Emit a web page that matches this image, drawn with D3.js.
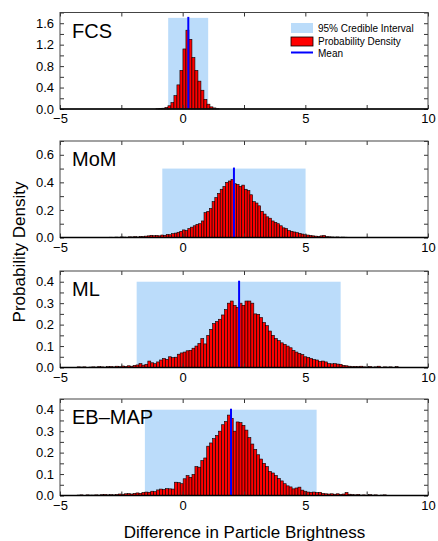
<!DOCTYPE html>
<html>
  <head>
    <meta charset="utf-8">
    <script src="https://cdn.jsdelivr.net/npm/d3@7/dist/d3.min.js"></script>
    <style>
      body { margin: 0; background: white; }
      svg { display: block; font-family: "Liberation Sans", Arial, sans-serif; }
      .frame { fill: none; stroke: #444; stroke-width: 1px; }
      .axis path { display: none; }
      .axis line { stroke: #333; stroke-width: 1px; }
      .axis text { font-size: 13px; fill: black; }
      .bar { fill: #ff0000; stroke: black; stroke-width: 0.6px; }
      .ci { fill: #bbdcfa; }
      .mean { stroke: #0000ff; stroke-width: 2px; }
      .panelLabel { font-size: 20px; }
      .legend text { font-size: 10px; }
    </style>
  </head>
  <body>
    <svg id="chart" width="438" height="541"></svg>
    <script>
      // ---- data ----
      var methods = ["FCS", "MoM", "ML", "EB–MAP"];
      var binStart = [-1.09, -2.98, -4.30, -4.30];
      var binWidth = [0.1223, 0.11, 0.12, 0.12];

      var fcsDensity = [0.005,0.01,0.015,0.03,0.06,0.12,0.25,0.45,0.72,1.12,1.47,1.30,0.96,0.72,0.52,0.35,0.18,0.09,0.04,0.02,0.005];
      var momDensity = [0.002,0,0.003,0.002,0.004,0.003,0.002,0.005,0.004,0.006,
        0.004,0.008,0.007,0.010,0.012,0.016,0.013,0.015,0.012,0.018,
        0.016,0.022,0.020,0.028,0.032,0.038,0.045,0.055,0.050,0.065,
        0.075,0.085,0.095,0.100,0.120,0.180,0.190,0.210,0.260,0.290,
        0.320,0.350,0.370,0.400,0.410,0.420,0.390,0.385,0.370,0.380,
        0.350,0.340,0.310,0.260,0.250,0.230,0.190,0.170,0.150,0.140,
        0.120,0.110,0.100,0.085,0.070,0.065,0.050,0.045,0.040,0.035,
        0.030,0.025,0.020,0.018,0.015,0.012,0.010,0.008,0.012,0.015,
        0.006,0.005,0.004,0.003,0.004,0.002,0.003,0.002,0.001];
      var mlDensity = [0.003,0.002,0.003,0,0.002,0.003,0.002,0.004,0.003,0.002,
        0.004,0.005,0.003,0.006,0.004,0.007,0.005,0.008,0.006,0.010,
        0.012,0.018,0.011,0.015,0.030,0.022,0.018,0.026,0.035,0.042,
        0.038,0.050,0.046,0.048,0.062,0.068,0.072,0.078,0.080,0.090,
        0.100,0.112,0.135,0.110,0.150,0.178,0.205,0.215,0.225,0.245,
        0.270,0.300,0.310,0.290,0.280,0.300,0.290,0.310,0.310,0.300,
        0.250,0.248,0.233,0.210,0.195,0.170,0.150,0.135,0.125,0.115,
        0.108,0.100,0.092,0.080,0.072,0.066,0.060,0.050,0.047,0.042,
        0.037,0.035,0.028,0.030,0.026,0.018,0.017,0.018,0.016,0.015,
        0.010,0.008,0.006,0.004,0.005,0.004,0.006,0.003,0.002,0.005,
        0.002,0.003,0.006,0.001,0.003,0.002,0.003,0.001,0.004,0.001];
      var ebDensity = [0.002,0.003,0.001,0.003,0.002,0.002,0.003,0.002,0.004,0.005,
        0.003,0.004,0.003,0.005,0.007,0.006,0.008,0.009,0.007,0.010,
        0.012,0.010,0.014,0.016,0.015,0.020,0.018,0.026,0.030,0.028,
        0.032,0.031,0.030,0.062,0.060,0.055,0.078,0.093,0.085,0.098,
        0.135,0.132,0.163,0.175,0.230,0.245,0.265,0.280,0.300,0.330,
        0.345,0.375,0.360,0.300,0.343,0.340,0.327,0.305,0.270,0.240,
        0.215,0.190,0.170,0.150,0.135,0.112,0.105,0.093,0.080,0.068,
        0.055,0.045,0.040,0.031,0.035,0.039,0.025,0.020,0.016,0.015,
        0.016,0.014,0.015,0.010,0.008,0.007,0.008,0.006,0.008,0.005,
        0.007,0.014,0.006,0.004,0.003,0.005,0.002,0.003,0.001,0.004,
        0.002,0.003,0.001,0.002,0.003];
      var densities = [fcsDensity, momDensity, mlDensity, ebDensity];

      var means = [0.23, 2.09, 2.30, 1.97];
      var ciLow = [-0.59, -0.83, -1.875, -1.54];
      var ciHigh = [1.04, 5.01, 6.44, 5.46];
      var ciTop = [1.7, 0.5, 0.4, 0.4];

      var yMax = [1.8, 0.7, 0.45, 0.45];
      var yTicks = [[0, 0.4, 0.8, 1.2, 1.6], [0, 0.2, 0.4, 0.6], [0, 0.1, 0.2, 0.3, 0.4], [0, 0.1, 0.2, 0.3, 0.4]];
      var yMinorStep = [0.2, 0.1, 0.05, 0.05];
      var xTicks = [-5, 0, 5, 10];
      var xMinor = [-5, -2.5, 0, 2.5, 5, 7.5, 10];

      // ---- layout ----
      var left = 60, right = 428;
      var panelTop = [12.5, 141, 271, 399];
      var panelH = 96.5;

      var svg = d3.select("#chart");
      svg.append("rect").attr("width", 438).attr("height", 541).attr("fill", "white");

      var x = d3.scaleLinear().domain([-5, 10]).range([left, right]);

      methods.forEach(function(name, p) {
        var top = panelTop[p], bottom = top + panelH;
        var y = d3.scaleLinear().domain([0, yMax[p]]).range([bottom, top]);
        var g = svg.append("g");

        var bins = densities[p].map(function(d, i) {
          return { x0: binStart[p] + i * binWidth[p], x1: binStart[p] + (i + 1) * binWidth[p], v: d };
        });

        g.append("rect").attr("class", "ci")
          .attr("x", x(ciLow[p])).attr("width", x(ciHigh[p]) - x(ciLow[p]))
          .attr("y", y(ciTop[p])).attr("height", y(0) - y(ciTop[p]));

        g.selectAll(".bar").data(bins.filter(function(b) { return b.v > 0; }))
          .enter().append("rect").attr("class", "bar")
          .attr("x", function(b) { return x(b.x0); })
          .attr("width", function(b) { return x(b.x1) - x(b.x0); })
          .attr("y", function(b) { return y(b.v); })
          .attr("height", function(b) { return y(0) - y(b.v); });

        g.append("line").attr("class", "mean")
          .attr("x1", x(means[p])).attr("x2", x(means[p]))
          .attr("y1", y(0)).attr("y2", y(ciTop[p]) - 1);

        // minor y tick values
        var minor = d3.range(0, yMax[p] + 1e-9, yMinorStep[p]);

        g.append("g").attr("class", "axis")
          .attr("transform", "translate(0," + bottom + ")")
          .call(d3.axisBottom(x).tickValues(xMinor).tickSize(-4).tickPadding(5)
            .tickFormat(function(d) { return xTicks.indexOf(d) >= 0 ? d : ""; }))
          .selectAll("text").text(function(d) { return xTicks.indexOf(d) >= 0 ? (d < 0 ? "−" + Math.abs(d) : d) : ""; });
        g.append("g").attr("class", "axis")
          .attr("transform", "translate(0," + top + ")")
          .call(d3.axisTop(x).tickValues(xMinor).tickSize(-4).tickFormat(""));
        g.append("g").attr("class", "axis")
          .attr("transform", "translate(" + left + ",0)")
          .call(d3.axisLeft(y).tickValues(minor).tickSize(-4).tickPadding(6)
            .tickFormat(function(d) {
              return yTicks[p].some(function(t) { return Math.abs(t - d) < 1e-9; }) ? d3.format(".1f")(d) : "";
            }));
        g.append("g").attr("class", "axis")
          .attr("transform", "translate(" + right + ",0)")
          .call(d3.axisRight(y).tickValues(minor).tickSize(-4).tickFormat(""));

        g.append("rect").attr("class", "frame")
          .attr("x", left).attr("y", top).attr("width", right - left).attr("height", panelH);
        g.append("line").attr("x1", left).attr("x2", right).attr("y1", bottom).attr("y2", bottom)
          .attr("stroke", "black").attr("stroke-width", 1.5);

        g.append("text").attr("class", "panelLabel")
          .attr("x", 72).attr("y", top + 25).text(name);
      });

      // legend
      var lg = svg.append("g").attr("class", "legend");
      lg.append("rect").attr("x", 291).attr("y", 23).attr("width", 22).attr("height", 10).attr("fill", "#bbdcfa");
      lg.append("rect").attr("x", 291).attr("y", 37).attr("width", 22).attr("height", 9)
        .attr("fill", "#ff0000").attr("stroke", "black").attr("stroke-width", 0.8);
      lg.append("line").attr("x1", 291).attr("x2", 313).attr("y1", 52.5).attr("y2", 52.5)
        .attr("stroke", "#0000ff").attr("stroke-width", 2);
      lg.append("text").attr("x", 318).attr("y", 31.5).text("95% Credible Interval");
      lg.append("text").attr("x", 318).attr("y", 44.5).text("Probability Density");
      lg.append("text").attr("x", 318).attr("y", 56.5).text("Mean");

      // axis titles
      svg.append("text").attr("transform", "translate(25,252) rotate(-90)")
        .attr("text-anchor", "middle").style("font-size", "17px").text("Probability Density");
      svg.append("text").attr("x", 244.5).attr("y", 538)
        .attr("text-anchor", "middle").style("font-size", "17px").text("Difference in Particle Brightness");
    </script>
  </body>
</html>
